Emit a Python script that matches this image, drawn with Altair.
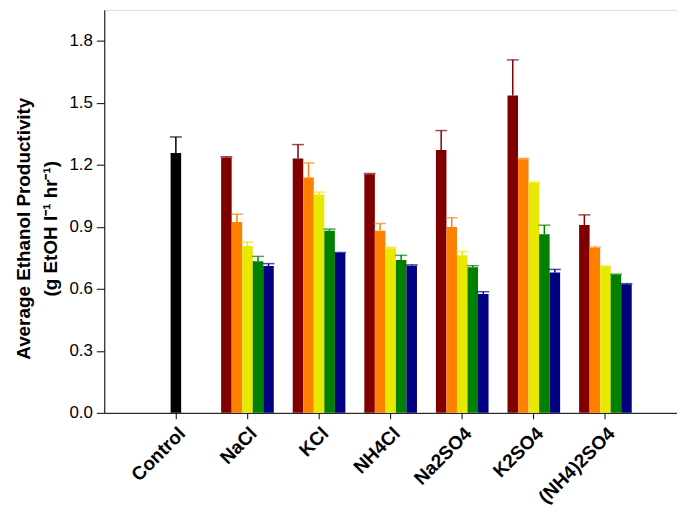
import altair as alt
import pandas as pd

categories = ["Control", "NaCl", "KCl", "NH4Cl", "Na2SO4", "K2SO4", "(NH4)2SO4"]
series = ["S1", "S2", "S3", "S4", "S5"]
series_colors = ["#800000", "#FF8000", "#E8E800", "#008000", "#000080"]

control_value = 1.257
control_err = 0.078
control_color = "#000000"

nacl = [1.235, 0.924, 0.807, 0.734, 0.710]
nacl_err = [0.004, 0.037, 0.019, 0.023, 0.012]
kcl = [1.231, 1.139, 1.057, 0.881, 0.774]
kcl_err = [0.067, 0.070, 0.011, 0.008, 0.002]
nh4cl = [1.155, 0.881, 0.796, 0.740, 0.712]
nh4cl_err = [0.003, 0.035, 0.005, 0.022, 0.004]
na2so4 = [1.272, 0.899, 0.763, 0.704, 0.575]
na2so4_err = [0.094, 0.045, 0.018, 0.008, 0.011]
k2so4 = [1.536, 1.227, 1.112, 0.864, 0.679]
k2so4_err = [0.172, 0.004, 0.004, 0.044, 0.015]
nh42so4 = [0.909, 0.798, 0.708, 0.668, 0.622]
nh42so4_err = [0.049, 0.004, 0.003, 0.003, 0.003]

rows = [{"category": "Control", "series": "S3", "value": control_value,
         "top": control_value + control_err, "color": control_color}]
for cat, vals, errs in [("NaCl", nacl, nacl_err), ("KCl", kcl, kcl_err),
                        ("NH4Cl", nh4cl, nh4cl_err), ("Na2SO4", na2so4, na2so4_err),
                        ("K2SO4", k2so4, k2so4_err), ("(NH4)2SO4", nh42so4, nh42so4_err)]:
    for s, c, v, e in zip(series, series_colors, vals, errs):
        rows.append({"category": cat, "series": s, "value": v, "top": v + e, "color": c})
df = pd.DataFrame(rows)

FONT = "Liberation Sans"

x = alt.X("category:N", sort=categories,
          scale=alt.Scale(paddingInner=0, paddingOuter=0.5),
          axis=alt.Axis(title=None, labelAngle=-45, labelFontSize=19, labelFontWeight="bold",
                        labelFont=FONT, labelColor="black", tickColor="black", tickSize=6,
                        domainColor="black", labelPadding=5))
xoff = alt.XOffset("series:N", sort=series,
                   scale=alt.Scale(domain=series, paddingInner=0, paddingOuter=0.9))
y = alt.Y("value:Q", scale=alt.Scale(domain=[0, 1.95], nice=False),
          axis=alt.Axis(title=["Average Ethanol Productivity", "(g EtOH l⁻¹ hr⁻¹)"],
                        values=[0, 0.3, 0.6, 0.9, 1.2, 1.5, 1.8], format=".1f",
                        grid=False, labelFontSize=17, labelFont=FONT, labelColor="black",
                        tickColor="black", tickSize=8, domainColor="black", labelPadding=4,
                        titleFont=FONT, titleFontSize=19, titleFontWeight="bold",
                        titleColor="black", titleLineHeight=27, titlePadding=9,
                        titleY=220))
color = alt.Color("color:N", scale=None)

base = alt.Chart(df)
bars = base.mark_bar().encode(x=x, xOffset=xoff, y=y, color=color)
rules = base.mark_rule(strokeWidth=1.5).encode(x=x, xOffset=xoff, y="value:Q", y2="top:Q", color=color)
caps = base.mark_tick(orient="horizontal", size=12, thickness=1.5).encode(
    x=x, xOffset=xoff, y="top:Q", color=color)

chart = alt.layer(bars, rules, caps).properties(
    width=577, height=406,
    autosize=alt.AutoSizeParams(type="none"),
    padding={"left": 97, "top": 0, "right": 0, "bottom": 94},
).configure_view(stroke="black", strokeWidth=1.5).configure(font=FONT)

chart.save("out.html", embed_options={"renderer": "svg", "actions": False})
